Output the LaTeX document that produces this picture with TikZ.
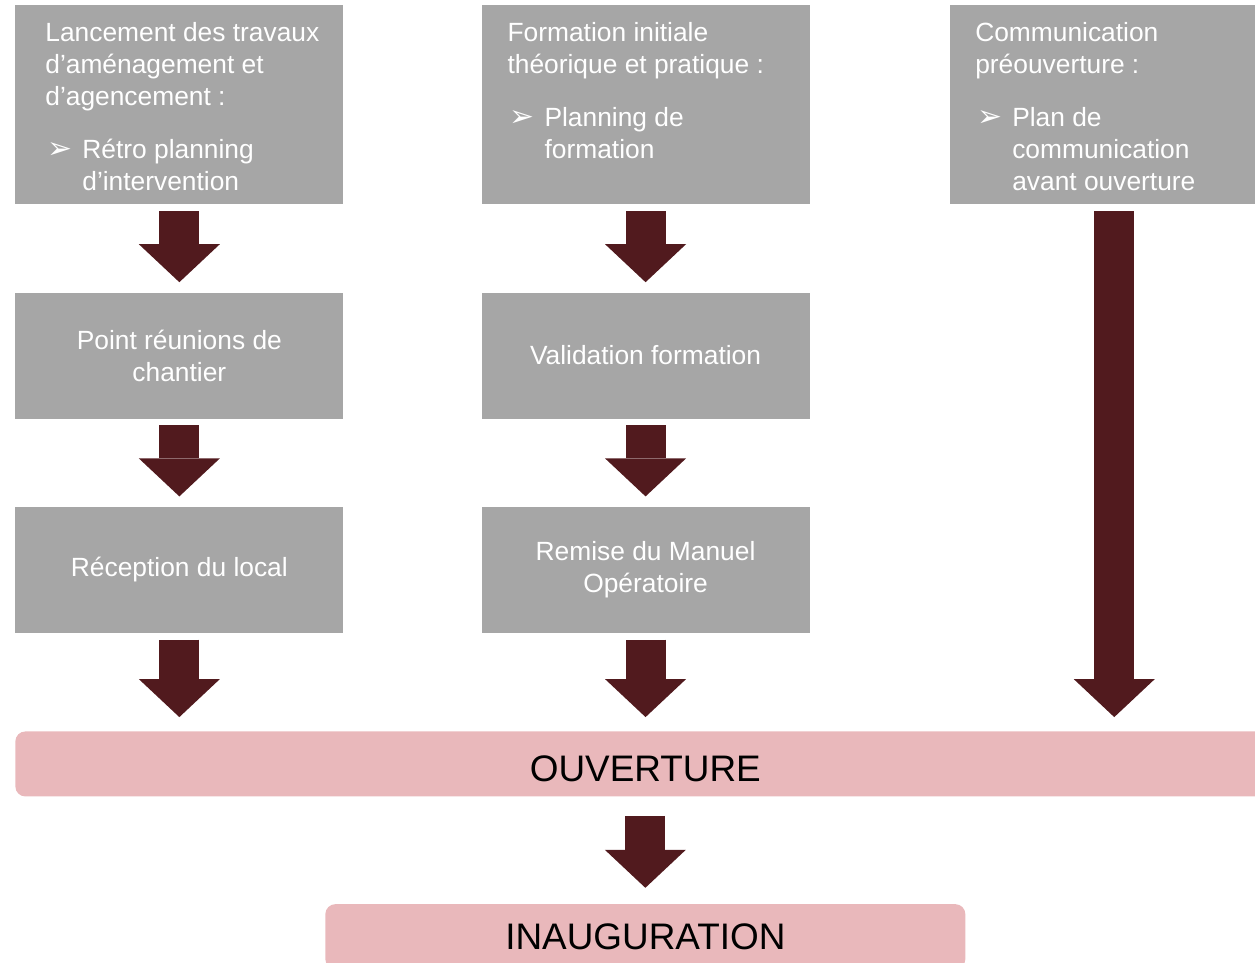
\documentclass[tikz,border=0pt]{standalone}
\usepackage{fontspec}
\setmainfont{Liberation Sans}
\newfontfamily\dejavu{DejaVu Sans}
\usepackage{tikz}
\usetikzlibrary{
        arrows.meta,
        positioning,
        shapes
    }
\definecolor{gris}{HTML}{A6A6A6}
\definecolor{bordeaux}{HTML}{511A1E}
\definecolor{rose}{HTML}{E9B8BB}
\newcommand{\puce}{\makebox[0.74cm][l]{\hspace{1pt}{\dejavu\fontsize{17pt}{17pt}\selectfont ➢}}}
\newcommand{\retrait}{\hspace*{0.74cm}}
\tikzset{node distance=1.75cm and 2.75cm}
\tikzset{
    etape/.style={fill=gris, minimum width=6.56cm, inner sep=0pt, text=white,
        align=center, font=\fontsize{15pt}{18.2pt}\selectfont},
    haute/.style={etape, minimum height=3.98cm},
    basse/.style={etape, minimum height=2.52cm},
    titre/.style={inner sep=0pt, text=white, align=left,
        font=\fontsize{15pt}{18.2pt}\selectfont},
    jalon/.style={fill=rose, rounded corners=0.2cm, minimum height=1.3cm,
        inner sep=0pt, font=\fontsize{21pt}{25pt}\selectfont},
    fleche/.style={draw, color=bordeaux, line width=0.8cm,
        -{Triangle[width=1.62cm,length=0.76cm,line width=0pt]},
        shorten <=0.13cm, shorten >=0.2cm}
}

\begin{document}
\begin{tikzpicture}
    \path[use as bounding box] (0,0) rectangle (25.1,-19.26);
    \clip (0,0) rectangle (25.1,-19.26);
        % travaux
        \node[haute, anchor=north west] (lanc) at (0.3,-0.1) {};
        \node[basse] (reun) [below=of lanc] {Point réunions de\\chantier};
        \node[basse] (recep) [below=of reun] {Réception du local};
        % formation
        \node[haute] (form) [right=of lanc] {};
        \node[basse] (valid) [below=of form] {Validation formation};
        \node[basse] (remise) [below=of valid] {Remise du Manuel\\Opératoire};
        % communication
        \node[haute] (comm) [right=2.8cm of form] {};
        % jalons
        \node[jalon, minimum width=25.2cm, text height=0.71cm, text depth=0pt]
            (ouv) [below right=1.96cm and 0cm of recep.south west] {OUVERTURE};
        \node[jalon, minimum width=12.8cm] (inaug) [below=2.14cm of ouv] {INAUGURATION};
        % titres
        \node[titre] (tlanc) [below right=0.34cm and 0.6cm of lanc.north west] {
                Lancement des travaux\\
                d’aménagement et\\
                d’agencement :\\[0.42cm]
                \puce Rétro planning\\
                \retrait d’intervention};
        \node[titre] (tform) [below right=0.34cm and 0.52cm of form.north west] {
                Formation initiale\\
                théorique et pratique :\\[0.42cm]
                \puce Planning de\\
                \retrait formation};
        \node[titre] (tcomm) [below right=0.34cm and 0.5cm of comm.north west] {
                Communication\\
                préouverture :\\[0.42cm]
                \puce Plan de\\
                \retrait communication\\
                \retrait avant ouverture};
        % fleches
        \path[fleche]
                (lanc)  edge (reun)
                (reun)  edge (recep)
                (form)  edge (valid)
                (valid) edge (remise)
                ;
        \path[fleche, shorten >=0.28cm]
                (recep)  edge (recep |- ouv.north)
                (remise) edge (remise |- ouv.north)
                (comm)   edge (comm |- ouv.north)
                ;
        \path[fleche, shorten <=0.38cm, shorten >=0.32cm]
                (ouv) edge (inaug)
                ;
\end{tikzpicture}
\end{document}
